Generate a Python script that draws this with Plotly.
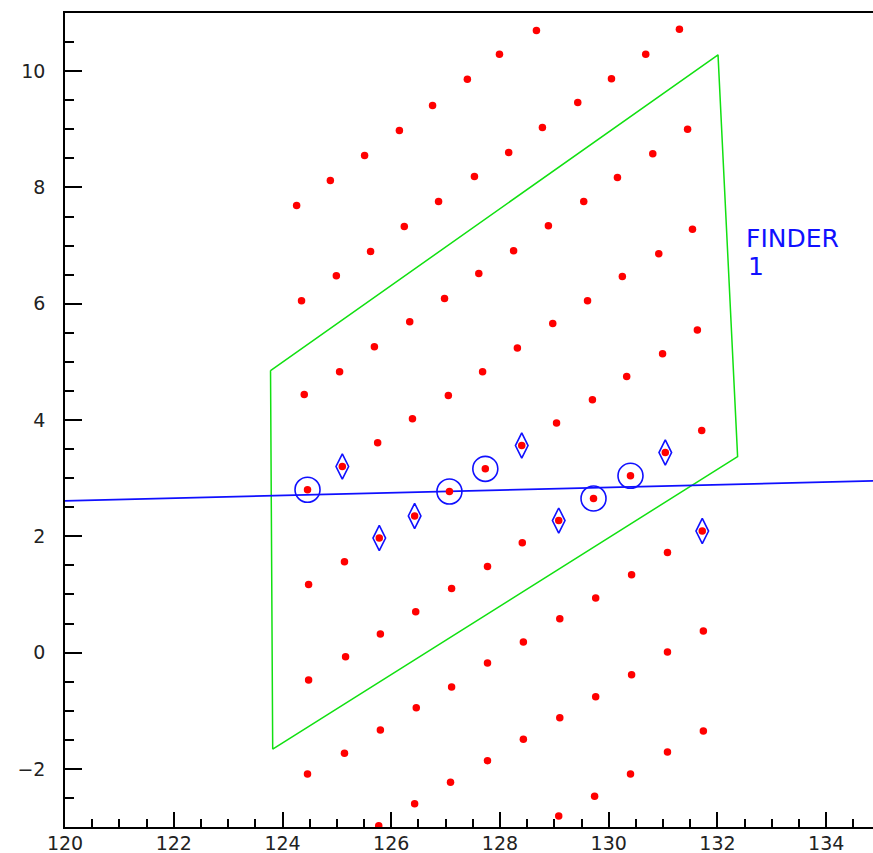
import plotly.graph_objects as go

# Red hit points (lattice)
pts_x = [127.99, 127.40, 126.76, 126.15, 125.51, 124.88, 124.26, 127.53, 126.87, 126.24, 125.62,
         124.99, 124.35, 127.61, 126.98, 126.34, 125.69, 125.05, 124.40, 127.68, 127.05,
         128.67, 131.30, 130.68, 130.05, 129.43, 128.78, 128.16, 131.45, 130.81, 130.16, 129.54,
         128.89, 128.25, 131.54, 130.92, 130.25, 129.61, 128.97, 128.32, 131.63, 130.99, 130.33, 129.70,
         126.39, 125.75, 125.10, 124.46, 127.73, 127.07, 126.43, 125.78, 125.14, 124.48, 127.77, 127.11,
         126.45, 125.80, 125.16, 124.48, 127.77, 127.11, 126.46, 125.80, 125.14, 124.46, 127.77, 127.09,
         126.43, 125.77,
         129.04, 128.40, 131.71, 131.04, 130.40, 129.72, 129.08, 128.41, 131.72, 131.08, 130.42, 129.76,
         129.10, 128.43, 131.74, 131.08, 130.42, 129.76, 129.10, 128.43, 131.74, 131.08, 130.40, 129.74, 129.08]
pts_y = [10.29, 9.86, 9.41, 8.98, 8.55, 8.12, 7.69, 8.19, 7.76, 7.33, 6.90,
         6.48, 6.05, 6.52, 6.09, 5.69, 5.26, 4.83, 4.44, 4.83, 4.42,
         10.70, 10.72, 10.29, 9.87, 9.46, 9.03, 8.60, 9.00, 8.58, 8.17, 7.76,
         7.34, 6.91, 7.28, 6.86, 6.47, 6.05, 5.66, 5.24, 5.55, 5.14, 4.75, 4.35,
         4.02, 3.61, 3.20, 2.80, 3.16, 2.77, 2.35, 1.97, 1.56, 1.17, 1.48, 1.10,
         0.70, 0.32, -0.07, -0.47, -0.18, -0.59, -0.95, -1.33, -1.73, -2.09, -1.86, -2.23,
         -2.60, -2.98,
         3.95, 3.56, 3.82, 3.44, 3.04, 2.65, 2.27, 1.89, 2.09, 1.72, 1.34, 0.94,
         0.58, 0.18, 0.37, 0.01, -0.38, -0.76, -1.12, -1.49, -1.35, -1.71, -2.09, -2.47, -2.81]

# Circled hits
circ_x = [124.46, 127.73, 127.07, 130.40, 129.72]
circ_y = [2.80, 3.16, 2.77, 3.04, 2.65]

# Diamond hits
diam_x = [125.10, 126.43, 125.78, 128.40, 131.04, 129.08, 131.72]
diam_y = [3.20, 2.35, 1.97, 3.56, 3.44, 2.27, 2.09]

# Finder 1 region (green polygon)
finder_x = [123.78, 132.01, 132.37, 123.82, 123.78]
finder_y = [4.85, 10.28, 3.37, -1.66, 4.85]

# Fitted track (blue line)
track_x = [120.0, 135.0]
track_y = [2.61, 2.955]

label_lines = ["FINDER", "1"]

RED = "#ff0000"
BLUE = "#1010ff"
GREEN = "#11e011"

fig = go.Figure()
fig.add_trace(go.Scatter(x=finder_x, y=finder_y, mode="lines",
                         line=dict(color=GREEN, width=1.5), hoverinfo="skip"))
fig.add_trace(go.Scatter(x=track_x, y=track_y, mode="lines",
                         line=dict(color=BLUE, width=1.7), hoverinfo="skip"))
fig.add_trace(go.Scatter(x=pts_x, y=pts_y, mode="markers",
                         marker=dict(color=RED, size=7.5, symbol="circle", line=dict(width=0))))
fig.add_trace(go.Scatter(x=circ_x, y=circ_y, mode="markers",
                         marker=dict(symbol="circle-open", size=25, color=BLUE, line=dict(width=1.6, color=BLUE))))
fig.add_trace(go.Scatter(x=diam_x, y=diam_y, mode="markers",
                         marker=dict(symbol="diamond-tall-open", size=18, color=BLUE, line=dict(width=1.6, color=BLUE))))

fig.add_annotation(x=132.49, y=7.13, xref="x", yref="y", text=label_lines[0], showarrow=False,
                   xanchor="left", yanchor="middle", font=dict(family="DejaVu Sans", size=25, color=BLUE))
fig.add_annotation(x=132.53, y=6.64, xref="x", yref="y", text=label_lines[1], showarrow=False,
                   xanchor="left", yanchor="middle", font=dict(family="DejaVu Sans", size=25, color=BLUE))

axis_font = dict(family="DejaVu Sans", size=19, color="#222222")
fig.update_layout(
    width=873, height=853, autosize=False,
    margin=dict(l=65, r=0, t=13, b=26),
    plot_bgcolor="white", paper_bgcolor="white",
    showlegend=False,
    xaxis=dict(range=[120, 134.86], showline=True, linecolor="black", linewidth=1.5, mirror=True,
               ticks="inside", tick0=120, dtick=2, ticklen=15, tickwidth=1.5, tickcolor="black",
               minor=dict(dtick=0.5, ticks="inside", ticklen=8, tickwidth=1.5, tickcolor="black", showgrid=False),
               showgrid=False, zeroline=False, tickfont=axis_font, ticklabelstandoff=-2, automargin=False),
    yaxis=dict(range=[-3, 11], showline=True, linecolor="black", linewidth=1.5, mirror=False,
               ticks="inside", tick0=0, dtick=2, ticklen=17, tickwidth=1.5, tickcolor="black",
               minor=dict(dtick=0.5, ticks="inside", ticklen=9, tickwidth=1.5, tickcolor="black", showgrid=False),
               showgrid=False, zeroline=False, tickfont=axis_font, ticklabelstandoff=14, automargin=False),
)

fig.write_html("out.html")
